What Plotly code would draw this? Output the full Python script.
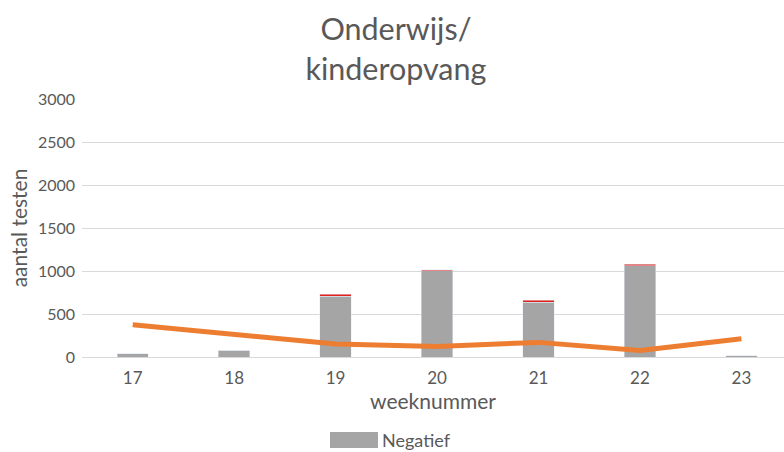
import plotly.graph_objects as go

weeks = ["17", "18", "19", "20", "21", "22", "23"]
negatief = [40, 80, 705, 1003, 635, 1062, 15]
positief = [0, 0, 23, 12, 23, 15, 0]
lijn = [375, 260, 150, 123, 170, 77, 211]
y_ticks = [0, 500, 1000, 1500, 2000, 2500, 3000]

GRAY = "#A5A5A5"
RED = "#E0201B"
ORANGE = "#ED7D31"
TXT = "#595959"
FONT = "Lato"

L, T, W, H = 82, 99, 702, 258

fig = go.Figure()
fig.add_trace(go.Bar(x=weeks, y=negatief, name="Negatief", marker_color=GRAY,
                     width=0.31, showlegend=False))
fig.add_trace(go.Bar(x=weeks, y=positief, name="Positief", marker_color=RED,
                     width=0.31, showlegend=False))
fig.add_trace(go.Scatter(x=weeks, y=lijn, mode="lines", name="lijn",
                         line=dict(color=ORANGE, width=5), showlegend=False))

fig.update_layout(
    width=784, height=452,
    barmode="stack",
    plot_bgcolor="white", paper_bgcolor="white",
    margin=dict(l=L, r=0, t=T, b=452 - T - H),
    font=dict(family=FONT, color=TXT, size=16),
    title=dict(text="Onderwijs/<br>kinderopvang", x=0.505, xref="container",
               xanchor="center", y=1 - 40 / 452, yanchor="middle",
               font=dict(family=FONT, size=30.5, color=TXT)),
    xaxis=dict(type="category", range=[-0.5, 6.42], showgrid=False,
               showline=True, linecolor="#D9D9D9", linewidth=1, automargin=False,
               tickfont=dict(size=17, color=TXT), ticklabelstandoff=6,
               title=dict(text="weeknummer", font=dict(size=21, color=TXT), standoff=6)),
    yaxis=dict(range=[0, 3000], tickvals=y_ticks, showgrid=True, automargin=False,
               gridcolor="#D9D9D9", gridwidth=1, zeroline=False,
               tickfont=dict(size=16, color=TXT), ticklabelstandoff=6,
               title=dict(text="aantal testen", font=dict(size=21, color=TXT), standoff=4)),
)

# legend swatch and label for the gray series
fig.add_shape(type="rect", xref="paper", yref="paper",
              x0=(330 - L) / W, x1=(378 - L) / W,
              y0=(T + H - 448) / H, y1=(T + H - 432) / H,
              fillcolor=GRAY, line_width=0)
fig.add_annotation(text="Negatief", xref="paper", yref="paper",
                   x=(380 - L) / W, y=(T + H - 440) / H,
                   xanchor="left", yanchor="middle", showarrow=False,
                   font=dict(family=FONT, size=18, color=TXT))

fig.write_html("out.html", config={"displayModeBar": False},
               post_script="document.body.style.margin='0';")
